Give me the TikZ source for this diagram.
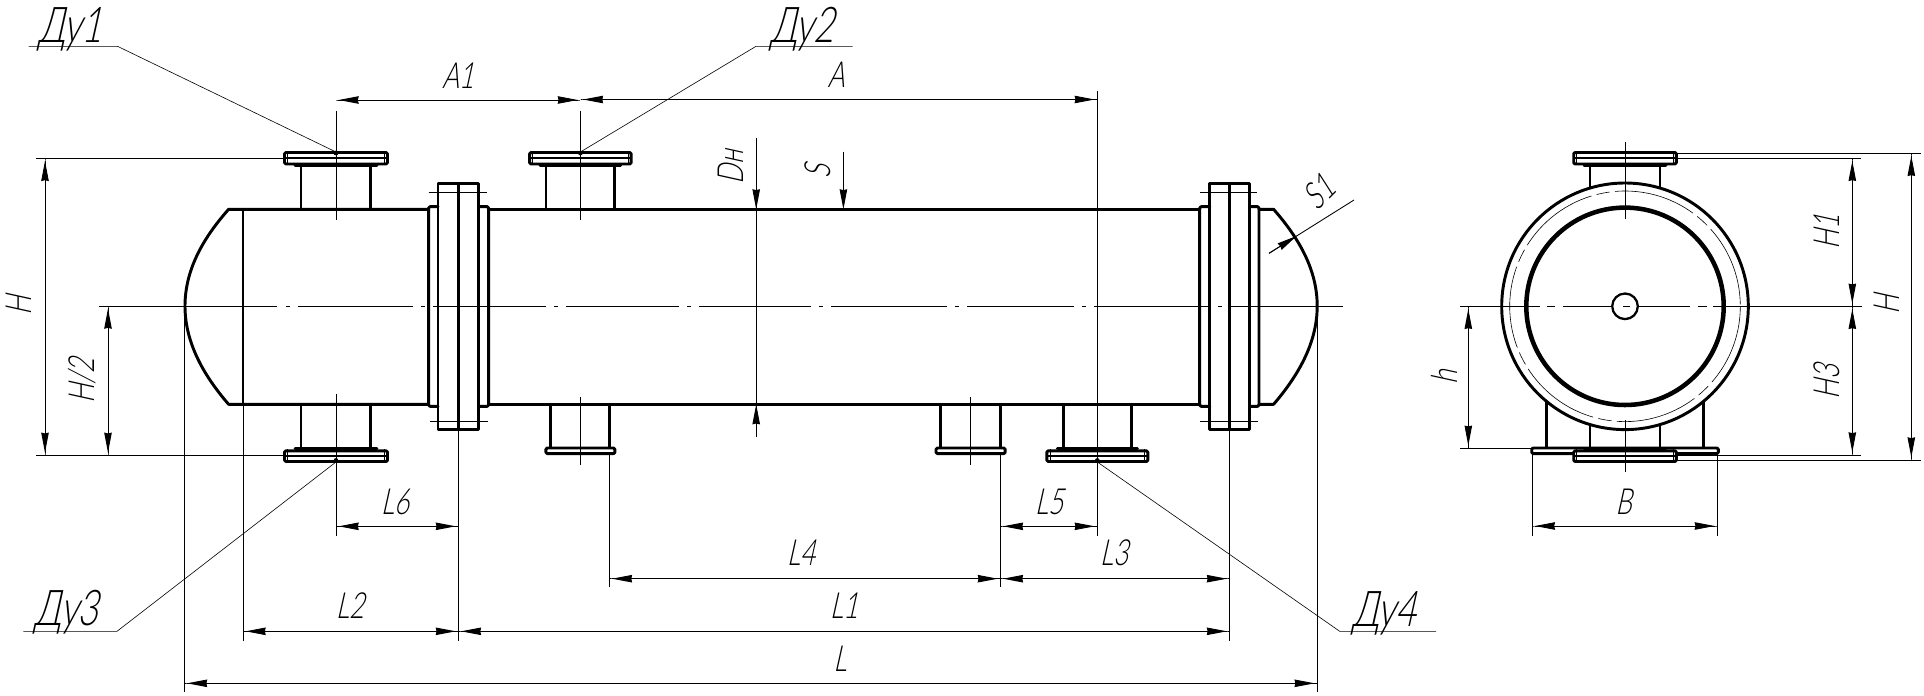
\documentclass[tikz,border=0pt]{standalone}
\usepackage{fontspec}
\usetikzlibrary{arrows.meta}
\newfontfamily\drawfont[FakeSlant=0.22,FakeStretch=0.72]{Lato Light}
\tikzset{
  mainline/.style={line width=2.2pt,line join=round,line cap=round},
  midline/.style={line width=1.6pt,line join=round},
  thinline/.style={line width=0.65pt},
  hairline/.style={line width=0.45pt},
  dimboth/.style={line width=0.65pt,
    {Rectangle[length=2pt,width=0.65pt]Stealth[length=15pt,width=5.6pt,inset=0.6pt]}-{Stealth[length=15pt,width=5.6pt,inset=0.6pt]Rectangle[length=2pt,width=0.65pt]}},
  dimone/.style={line width=0.65pt,-{Stealth[length=15pt,width=5.6pt,inset=0.6pt]}},
  dimlabel/.style={font=\drawfont\fontsize{27}{27}\selectfont,inner sep=0pt,anchor=base},
  dimside/.style={font=\drawfont\fontsize{27}{27}\selectfont,inner sep=0pt,anchor=center,rotate=90},
  taglabel/.style={font=\drawfont\fontsize{37}{37}\selectfont,inner sep=0pt,anchor=base},
}
\newcommand{\topflange}[2]{%
  \draw[mainline,fill=white,rounded corners=1pt] ({#1-#2},152.5) rectangle ({#1+#2},164);
  \draw[midline] ({#1-#2},158.3) -- ({#1+#2},158.3);
  \draw[thinline] ({#1-#2+3.2},152.5) -- ({#1-#2+3.2},164) ({#1+#2-3.2},152.5) -- ({#1+#2-3.2},164);
  \draw[mainline] ({#1-#2+10.5},165.8) -- ({#1+#2-10.5},165.8);
}
\newcommand{\botflange}[2]{%
  \draw[mainline,fill=white,rounded corners=1pt] ({#1-#2},450.8) rectangle ({#1+#2},461.5);
  \draw[midline] ({#1-#2},456.3) -- ({#1+#2},456.3);
  \draw[thinline] ({#1-#2+3.2},449) -- ({#1-#2+3.2},463) ({#1+#2-3.2},449) -- ({#1+#2-3.2},463);
  \draw[mainline] ({#1-#2+10.5},448.8) -- ({#1+#2-10.5},448.8);
}
\newcommand{\smallflange}[2]{%
  \draw[mainline,fill=white,rounded corners=1pt] ({#1-#2},448) rectangle ({#1+#2},453.6);
}
\begin{document}
\begin{tikzpicture}[x=0.75pt,y=-0.75pt]
\useasboundingbox (0,0) rectangle (1924,696);
\fill[white] (0,0) rectangle (1924,696);

% ---- side view: shell and heads
\draw[mainline] (428.6,209.3) -- (228.6,209.3)
  .. controls (205,236) and (185,268) .. (185,306)
  .. controls (185,344) and (205,377) .. (228.6,404.3) -- (428.6,404.3);
\draw[mainline] (488.6,209.3) -- (1199.7,209.3);
\draw[mainline] (488.6,404.3) -- (1199.7,404.3);
\draw[mainline] (1259,209.3) -- (1273.6,209.3)
  .. controls (1297,236) and (1317.2,268) .. (1317.2,306)
  .. controls (1317.2,344) and (1297,377) .. (1273.6,404.3) -- (1259,404.3);
\draw[midline] (243,209.3) -- (243,404.3);

% body flanges
\draw[mainline,rounded corners=1pt] (438,206.7) -- (428.6,206.7) -- (428.6,406.3) -- (438,406.3);
\draw[mainline,rounded corners=1pt] (478.4,206.7) -- (488.6,206.7) -- (488.6,406.3) -- (478.4,406.3);
\draw[mainline] (438,183.7) rectangle (478.4,429.7);
\draw[mainline] (458.4,183.7) -- (458.4,429.7);
\draw[thinline] (428.6,192.3) -- (486.5,192.3) (430,421.3) -- (488,421.3);
\draw[mainline,rounded corners=1pt] (1209.8,206.7) -- (1199.7,206.7) -- (1199.7,406.3) -- (1209.8,406.3);
\draw[mainline,rounded corners=1pt] (1249.7,206.7) -- (1259,206.7) -- (1259,406.3) -- (1249.7,406.3);
\draw[mainline] (1209.8,183.7) rectangle (1249.7,429.7);
\draw[mainline] (1229.5,183.7) -- (1229.5,429.7);
\draw[thinline] (1200,192.3) -- (1256.6,192.3) (1200,421.3) -- (1258,421.3);

% nozzles
\draw[mainline] (301,166) -- (301,209.3) (370.6,166) -- (370.6,209.3);
\draw[mainline] (546,166) -- (546,209.3) (614.3,166) -- (614.3,209.3);
\draw[mainline] (301,404.3) -- (301,448) (370.6,404.3) -- (370.6,448);
\draw[mainline] (550.2,404.3) -- (550.2,448) (609.4,404.3) -- (609.4,448);
\draw[mainline] (940.7,404.3) -- (940.7,448) (1000.4,404.3) -- (1000.4,448);
\draw[mainline] (1063.3,404.3) -- (1063.3,448) (1131.3,404.3) -- (1131.3,448);
\topflange{336}{51.5}
\topflange{580.4}{50.8}
\botflange{336}{51.5}
\botflange{1097.3}{50.5}
\smallflange{580.4}{34.5}
\smallflange{970.6}{34.6}

% centre line
\draw[thinline] (99,306) -- (277,306) (285.5,306) -- (289.5,306)
  (298,306) -- (413,306) (421,306) -- (425,306)
  (433,306) -- (546,306) (554,306) -- (558,306)
  (566,306) -- (679,306) (687,306) -- (691,306)
  (699,306) -- (811,306) (819,306) -- (823,306)
  (831,306) -- (947,306) (955,306) -- (959,306)
  (967,306) -- (1074,306) (1082,306) -- (1086,306)
  (1094,306) -- (1210,306) (1218,306) -- (1222,306)
  (1230,306) -- (1343,306);

% extension and centre thin lines
\draw[thinline] (336,111) -- (336,220);
\draw[thinline] (580.4,111) -- (580.4,220);
\draw[thinline] (336,394) -- (336,535.7);
\draw[thinline] (580.4,397.3) -- (580.4,465.3);
\draw[thinline] (970.6,397.3) -- (970.6,465.3);
\draw[thinline] (1097.3,90.7) -- (1097.3,535.7);
\draw[thinline] (609.4,453.6) -- (609.4,587.3);
\draw[thinline] (1000.4,453.6) -- (1000.4,587.3);
\draw[thinline] (458.4,429.7) -- (458.4,640.7);
\draw[thinline] (1229.5,429.7) -- (1229.5,640.7);
\draw[thinline] (243,404.3) -- (243,640.7);
\draw[thinline] (184.5,306) -- (184.5,692.3);
\draw[thinline] (1317.2,306) -- (1317.2,692.3);
\draw[thinline] (36,158.3) -- (284.5,158.3);
\draw[thinline] (36,455.3) -- (284.5,455.3);

% dimensions on the side view
\draw[dimboth] (336,100) -- (580.4,100);
\draw[dimboth] (580.4,99.5) -- (1097.3,99.5);
\draw[dimboth] (45,158.3) -- (45,455.3);
\draw[dimboth] (108,306) -- (108,455.3);
\draw[thinline] (756.2,137.7) -- (756.2,437.3);
\draw[dimone] (756.2,170) -- (756.2,209.3);
\draw[dimone] (756.2,437.3) -- (756.2,404.3);
\draw[dimone] (843.4,151.7) -- (843.4,209.3);
\draw[dimone] (1269,253.3) -- (1296.6,236);
\draw[thinline] (1269,253.3) -- (1354,200);
\draw[dimboth] (336,526.3) -- (458.4,526.3);
\draw[dimboth] (1000.4,526.3) -- (1097.3,526.3);
\draw[dimboth] (609.4,578.7) -- (1000.4,578.7);
\draw[dimboth] (1000.4,578.7) -- (1229.5,578.7);
\draw[dimboth] (243,631.3) -- (458.4,631.3);
\draw[dimboth] (458.4,631.3) -- (1229.5,631.3);
\draw[dimboth] (184.5,683.3) -- (1317.2,683.3);

% leaders
\draw[hairline] (28.6,46.3) -- (117.5,46.3) -- (336,152);
\draw[hairline] (852.6,46.3) -- (756,46.3) -- (580.4,152);
\draw[hairline] (23.3,631.3) -- (117,631.3) -- (336,462);
\draw[hairline] (1436,631.3) -- (1339.7,631.3) -- (1097.3,462);
\fill (336,153) circle[radius=2.4];
\fill (580.4,153) circle[radius=2.4];
\fill (336,460.5) circle[radius=2.4];
\fill (1097.3,460.5) circle[radius=2.4];

% ---- end view
\draw[mainline] (1590,166) -- (1590,188) (1660,166) -- (1660,188);
\draw[mainline] (1590,424.5) -- (1590,448) (1660,424.5) -- (1660,448);
\draw[mainline] (1546.3,401) -- (1546.3,448) (1703.3,401) -- (1703.3,448);
\draw[mainline] (1625,306.3) circle[radius=123.3];
\draw[line width=3.4pt] (1625,306.3) circle[radius=98.7];
\draw[hairline,dash pattern=on 62pt off 4pt on 10pt off 4pt] (1625,306.3) circle[radius=115.3];
\draw[line width=1.7pt] (1625,306.3) circle[radius=12.8];
\smallflange{1625}{93.3}
\topflange{1625}{51.3}
\botflange{1625}{51.3}
\draw[thinline] (1625,141.7) -- (1625,219.3) (1625,420) -- (1625,471.7);
\draw[thinline] (1460,306.3) -- (1540,306.3) (1547,306.3) -- (1555,306.3)
  (1563,306.3) -- (1612,306.3) (1623,306.3) -- (1630,306.3)
  (1638,306.3) -- (1690,306.3) (1698,306.3) -- (1707,306.3)
  (1713,306.3) -- (1862,306.3);
\draw[thinline] (1676,153.3) -- (1920.7,153.3);
\draw[thinline] (1676,158.3) -- (1860.7,158.3);
\draw[thinline] (1677,455) -- (1860.7,455);
\draw[thinline] (1677,460) -- (1920.7,460);
\draw[thinline] (1460,448.3) -- (1531.7,448.3);
\draw[thinline] (1532.3,453.6) -- (1532.3,536);
\draw[thinline] (1717.3,453.6) -- (1717.3,536);
\draw[dimboth] (1852.3,158.3) -- (1852.3,306.3);
\draw[dimboth] (1852.3,306.3) -- (1852.3,455);
\draw[dimboth] (1911.3,153.3) -- (1911.3,460);
\draw[dimboth] (1468.3,306.3) -- (1468.3,448.3);
\draw[dimboth] (1532.3,526) -- (1717.3,526);

% ---- labels
\node[taglabel] (d1) at (70.5,42.7) {Ду1};
\node[taglabel] (d2) at (802,42) {Ду2};
\node[taglabel] (d3) at (66.5,625.5) {Ду3};
\node[taglabel] (d4) at (1384,626) {Ду4};
\node[dimlabel] (a1) at (458,88) {А1};
\node[dimlabel] (a0) at (836,87.5) {А};
\node[dimside] (hh) at (19,306) {H};
\node[dimside] (hh2) at (82,381) {H/2};
\node[dimside] (dn) at (731,167) {Dн};
\node[dimside] (ss) at (818,172) {S};
\node[dimlabel,rotate=45,anchor=center] (s1) at (1319,192) {S1};
\node[dimlabel] (l6) at (395,514) {L6};
\node[dimlabel] (l2) at (350,618) {L2};
\node[dimlabel] (l4) at (801,565) {L4};
\node[dimlabel] (l3) at (1114,565) {L3};
\node[dimlabel] (l5) at (1049,514) {L5};
\node[dimlabel] (l1) at (844,618) {L1};
\node[dimlabel] (l0) at (840,671) {L};
\node[dimlabel] (bb) at (1623.5,514) {B};
\node[dimside] (h1) at (1827,232) {H1};
\node[dimside] (h3) at (1827,382) {H3};
\node[dimside] (h0) at (1886.5,305) {H};
\node[dimside] (h4) at (1444,377) {h};
\end{tikzpicture}
\end{document}
